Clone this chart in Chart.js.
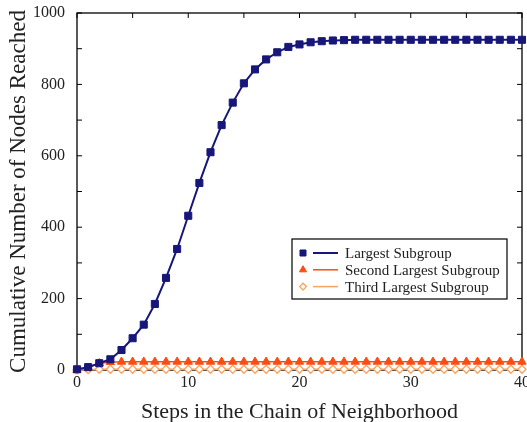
<!DOCTYPE html>
<html>
<head>
<meta charset="utf-8">
<script src="https://cdn.jsdelivr.net/npm/chart.js@4/dist/chart.umd.min.js"></script>
<style>
  html, body { margin: 0; padding: 0; background: #fff; overflow: hidden; }
  #wrap { width: 527px; height: 422px; overflow: hidden; }
</style>
</head>
<body>
<div id="wrap"><canvas id="c" width="533" height="422"></canvas></div>
<script>
// Steps in the neighborhood chain, 0..40
const steps = Array.from({ length: 41 }, (_, i) => i);

// Cumulative nodes reached per subgroup
const largest = [
  2, 8, 19, 30, 56, 89, 127, 185, 258, 339,
  432, 524, 610, 686, 749, 803, 842, 870, 890, 905,
  912, 918, 921, 923, 924, 925, 925, 925, 925, 925,
  925, 925, 925, 925, 925, 925, 925, 925, 925, 925, 925
];
const secondLargest = [
  0, 6, 19, 22, 23, 23, 23, 23, 23, 23,
  23, 23, 23, 23, 23, 23, 23, 23, 23, 23,
  23, 23, 23, 23, 23, 23, 23, 23, 23, 23,
  23, 23, 23, 23, 23, 23, 23, 23, 23, 23, 23
];
const thirdLargest = [
  0, 1, 2, 2, 2, 2, 2, 2, 2, 2,
  2, 2, 2, 2, 2, 2, 2, 2, 2, 2,
  2, 2, 2, 2, 2, 2, 2, 2, 2, 2,
  2, 2, 2, 2, 2, 2, 2, 2, 2, 2, 2
];

const seriesNames = ['Largest Subgroup', 'Second Largest Subgroup', 'Third Largest Subgroup'];
const xTicks = [0, 10, 20, 30, 40];
const yTicks = [0, 200, 400, 600, 800, 1000];

const SERIF = '"Liberation Serif", "DejaVu Serif", serif';
const NAVY = '#17177a';
const RED = '#ff4a10';
const ORANGE = '#f8a35e';

// Frame around the plot with inward ticks on all four sides
const framePlugin = {
  id: 'frame',
  beforeDatasetsDraw(chart) {
    const { ctx, chartArea: a, scales: { x, y } } = chart;
    ctx.save();
    ctx.strokeStyle = '#000';
    ctx.lineWidth = 1.3;
    ctx.strokeRect(a.left, a.top, a.right - a.left, a.bottom - a.top);
    ctx.lineWidth = 1;
    ctx.beginPath();
    for (let v = 0; v <= 40; v += 5) {
      const px = x.getPixelForValue(v);
      ctx.moveTo(px, a.bottom); ctx.lineTo(px, a.bottom - 5);
      ctx.moveTo(px, a.top); ctx.lineTo(px, a.top + 5);
    }
    for (let v = 0; v <= 1000; v += 100) {
      const py = y.getPixelForValue(v);
      ctx.moveTo(a.left, py); ctx.lineTo(a.left + 5, py);
      ctx.moveTo(a.right, py); ctx.lineTo(a.right - 5, py);
    }
    ctx.stroke();
    ctx.restore();
  }
};

// Boxed legend inside the plot, each entry shows marker plus line sample
const legendPlugin = {
  id: 'boxLegend',
  afterDraw(chart) {
    const { ctx, chartArea: a } = chart;
    const left = a.left + 215, top = a.top + 226, w = 215, h = 60;
    ctx.save();
    ctx.fillStyle = '#fff';
    ctx.fillRect(left, top, w, h);
    ctx.strokeStyle = '#000';
    ctx.lineWidth = 1.2;
    ctx.strokeRect(left, top, w, h);
    const entries = [...chart.data.datasets].sort((p, q) => p.order - q.order);
    entries.forEach((ds, i) => {
      const cy = top + 14 + i * 16.8;
      ctx.strokeStyle = ds.borderColor;
      ctx.lineWidth = ds.borderWidth;
      ctx.beginPath();
      ctx.moveTo(left + 21, cy); ctx.lineTo(left + 46, cy);
      ctx.stroke();
      ctx.fillStyle = ds.pointBackgroundColor;
      ctx.strokeStyle = ds.pointBorderColor;
      ctx.lineWidth = ds.pointBorderWidth;
      Chart.helpers.drawPoint(ctx, {
        pointStyle: ds.pointStyle,
        radius: ds.pointRadius * 0.85,
        borderWidth: ds.pointBorderWidth
      }, left + 11, cy);
      ctx.font = '15px ' + SERIF;
      ctx.textBaseline = 'middle';
      ctx.fillStyle = '#222';
      ctx.fillText(ds.label, left + 53, cy + 1);
    });
    ctx.restore();
  }
};

new Chart(document.getElementById('c'), {
  type: 'line',
  data: {
    labels: steps,
    datasets: [
      {
        label: seriesNames[0], data: largest, order: 1, clip: false,
        borderColor: NAVY, borderWidth: 2,
        pointStyle: 'rect', pointRadius: 5, pointBorderWidth: 1,
        pointBackgroundColor: NAVY, pointBorderColor: NAVY
      },
      {
        label: seriesNames[1], data: secondLargest, order: 2, clip: false,
        borderColor: RED, borderWidth: 1.5,
        pointStyle: 'triangle', pointRadius: 4.8, pointBorderWidth: 1,
        pointBackgroundColor: RED, pointBorderColor: RED
      },
      {
        label: seriesNames[2], data: thirdLargest, order: 3, clip: false,
        borderColor: ORANGE, borderWidth: 1.5,
        pointStyle: 'rectRot', pointRadius: 4, pointBorderWidth: 1.3,
        pointBackgroundColor: '#fff', pointBorderColor: ORANGE
      }
    ]
  },
  options: {
    responsive: false,
    animation: false,
    layout: { padding: { top: 0, left: 6, right: 0, bottom: 0 } },
    elements: { line: { tension: 0 } },
    plugins: { legend: { display: false }, tooltip: { enabled: false } },
    scales: {
      x: {
        type: 'linear', min: 0, max: 40,
        afterBuildTicks(s) { s.ticks = xTicks.map(v => ({ value: v })); },
        afterFit(s) { s.height = 52; },
        grid: { display: false, drawTicks: false },
        border: { display: false },
        ticks: {
          color: '#222', font: { family: SERIF, size: 16 }, padding: 3, maxRotation: 0,
          callback: v => String(v)
        },
        title: {
          display: true, text: 'Steps in the Chain of Neighborhood',
          color: '#222', font: { family: SERIF, size: 22, lineHeight: 0.85 },
          padding: { top: 6, bottom: 0 }
        }
      },
      y: {
        min: 0, max: 1000,
        afterBuildTicks(s) { s.ticks = yTicks.map(v => ({ value: v })); },
        afterFit(s) { s.width = 71; s.paddingTop = 13; },
        grid: { display: false, drawTicks: false },
        border: { display: false },
        ticks: {
          color: '#222', font: { family: SERIF, size: 16 }, padding: 12,
          callback: v => String(v)
        },
        title: {
          display: true, text: 'Cumulative Number of Nodes Reached',
          color: '#222', font: { family: SERIF, size: 23, lineHeight: 1.1 },
          padding: { top: 0, bottom: 3 }
        }
      }
    }
  },
  plugins: [framePlugin, legendPlugin]
});
</script>
</body>
</html>
